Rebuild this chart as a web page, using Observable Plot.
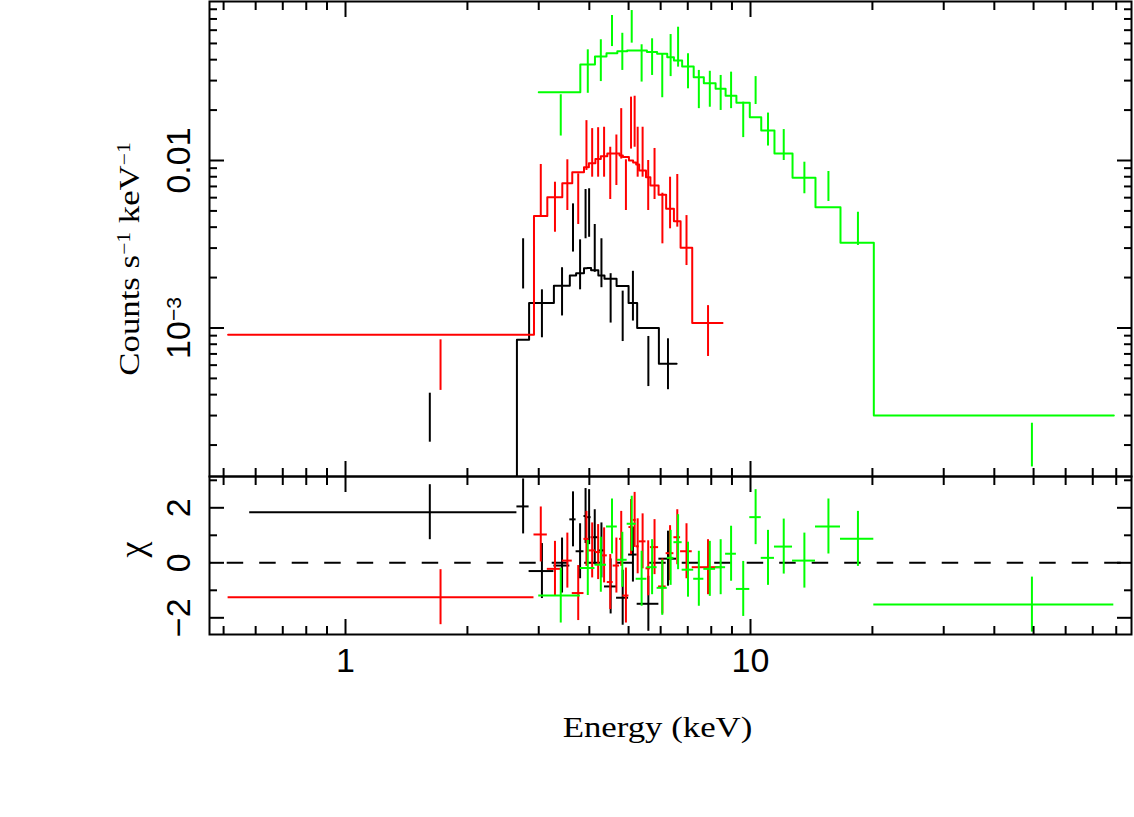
<!DOCTYPE html>
<html><head><meta charset="utf-8">
<script src="https://cdn.jsdelivr.net/npm/d3@7"></script>
<script src="https://cdn.jsdelivr.net/npm/@observablehq/plot@0.6"></script>
<style>
 body{margin:0;background:#fff;}
 #chart{position:relative;width:1134px;height:817px;background:#fff;overflow:hidden;}
 #chart svg{position:absolute;left:0;}
</style></head><body><div id="chart"></div>
<script>
// ---------- axes ----------
const xDomain = [0.4615, 87.25];           // keV
const countsDomain = [1.298e-4, 0.089];    // counts s^-1 keV^-1
const chiDomain = [-2.607, 3.138];
const xMajor = [1, 10];
const xMajorLabels = ["1", "10"];
const xMinor = [0.5, 0.6, 0.7, 0.8, 0.9, 2, 3, 4, 5, 6, 7, 8, 9, 20, 30, 40, 50, 60, 70, 80];
const countsMajor = [1e-3, 1e-2];
const countsMajorLabels = ["10⁻³", "0.01"];
const countsMajorParts = [[["10", false], ["−3", true]], [["0.01", false]]];
const countsMinor = [2e-4, 3e-4, 4e-4, 5e-4, 6e-4, 7e-4, 8e-4, 9e-4, 2e-3, 3e-3, 4e-3, 5e-3, 6e-3, 7e-3, 8e-3, 9e-3, 0.02, 0.03, 0.04, 0.05, 0.06, 0.07, 0.08];
const chiMajor = [-2, 0, 2];
const chiMajorLabels = ["−2", "0", "2"];
const chiMinor = [-1, 1, 3];
const titleX = "Energy (keV)";
const titleCounts = "Counts s⁻¹ keV⁻¹";
const titleCountsParts = [["Counts s", false], ["−1", true], [" keV", false], ["−1", true]];
const titleChi = "χ";

// ---------- data group 1 (black) ----------
const blackEdges = [0.58, 2.65, 2.84, 3.27, 3.58, 3.71, 3.88, 3.95, 4.04, 4.21, 4.36, 4.67, 5.00, 5.25, 5.94, 6.57];
const blackModel = [1.1e-4, 8.5e-4, 1.41e-3, 1.79e-3, 2.06e-3, 2.12e-3, 2.27e-3, 2.28e-3, 2.21e-3, 2.06e-3, 1.97e-3, 1.78e-3, 1.41e-3, 1.00e-3, 6.11e-4];
const blackHi = [4.08e-4, 3.41e-3, 1.69e-3, 2.29e-3, 5.51e-3, 3.36e-3, 6.71e-3, 6.78e-3, 4.15e-3, 3.41e-3, 2.11e-3, 1.66e-3, 2.18e-3, 8.90e-4, 8.62e-4];
const blackLo = [2.08e-4, 1.71e-3, 8.74e-4, 1.18e-3, 2.84e-3, 1.69e-3, 3.41e-3, 3.48e-3, 2.15e-3, 1.74e-3, 1.07e-3, 8.30e-4, 1.10e-3, 4.47e-4, 4.28e-4];
const blackChi = [1.84, 2.05, -0.30, -0.10, 1.58, 0.42, 1.70, 1.66, 0.93, 0.45, -0.86, -1.27, 0.30, -1.49, 0.15];

// ---------- data group 2 (red) ----------
const redEdges = [0.513, 2.92, 3.15, 3.43, 3.63, 3.88, 3.99, 4.14, 4.27, 4.43, 4.58, 4.75, 4.84, 5.01, 5.13, 5.22, 5.31, 5.52, 5.66, 5.93, 6.19, 6.47, 6.72, 7.18, 8.53];
const redModel = [9.11e-4, 4.66e-3, 6.04e-3, 7.32e-3, 8.51e-3, 9.12e-3, 9.64e-3, 1.02e-2, 1.06e-2, 1.10e-2, 1.10e-2, 1.07e-2, 1.05e-2, 1.00e-2, 9.73e-3, 9.47e-3, 8.72e-3, 7.95e-3, 7.09e-3, 6.24e-3, 5.15e-3, 4.34e-3, 3.01e-3, 1.07e-3];
const redHi = [8.50e-4, 9.47e-3, 7.42e-3, 1.01e-2, 8.33e-3, 1.73e-2, 1.55e-2, 1.57e-2, 1.58e-2, 1.20e-2, 1.42e-2, 2.04e-2, 1.01e-2, 2.39e-2, 2.42e-2, 1.58e-2, 1.58e-2, 1.00e-2, 1.18e-2, 6.38e-3, 7.95e-3, 8.25e-3, 4.69e-3, 1.36e-3];
const redLo = [4.24e-4, 4.69e-3, 3.73e-3, 5.03e-3, 4.15e-3, 8.72e-3, 7.95e-3, 7.95e-3, 7.95e-3, 5.85e-3, 7.09e-3, 1.02e-2, 5.03e-3, 1.17e-2, 1.20e-2, 7.95e-3, 7.95e-3, 5.03e-3, 5.85e-3, 3.18e-3, 3.91e-3, 4.00e-3, 2.36e-3, 6.76e-4];
const redChi = [-1.25, 1.03, -0.22, 0.08, -1.10, 0.87, 0.45, 0.39, 0.27, -0.70, -0.10, 0.87, -1.19, 1.30, 1.56, 0.60, 0.78, -0.20, 0.57, -0.86, 0.35, 0.93, 0.42, -0.16];

// ---------- data group 3 (green) ----------
const greenEdges = [3.00, 3.80, 4.13, 4.41, 4.69, 4.96, 5.22, 5.55, 5.88, 6.23, 6.47, 6.78, 7.24, 7.67, 8.20, 8.68, 9.23, 9.96, 10.63, 11.46, 12.70, 14.47, 16.68, 20.16, 78.9];
const greenModel = [2.56e-2, 3.74e-2, 4.18e-2, 4.37e-2, 4.49e-2, 4.54e-2, 4.54e-2, 4.44e-2, 4.34e-2, 4.14e-2, 3.95e-2, 3.64e-2, 3.14e-2, 2.89e-2, 2.68e-2, 2.44e-2, 2.21e-2, 1.81e-2, 1.51e-2, 1.10e-2, 7.88e-3, 5.26e-3, 3.23e-3, 3.00e-4];
const greenHi = [2.47e-2, 4.58e-2, 5.26e-2, 7.34e-2, 5.75e-2, 7.86e-2, 4.91e-2, 5.33e-2, 4.34e-2, 5.65e-2, 6.25e-2, 4.34e-2, 3.45e-2, 3.41e-2, 3.22e-2, 3.37e-2, 2.23e-2, 3.17e-2, 1.92e-2, 1.53e-2, 9.77e-3, 8.60e-3, 4.91e-3, 2.70e-4];
const greenLo = [1.40e-2, 2.52e-2, 2.96e-2, 4.79e-2, 3.45e-2, 5.02e-2, 2.94e-2, 3.22e-2, 2.37e-2, 3.17e-2, 3.61e-2, 2.68e-2, 2.04e-2, 2.08e-2, 1.99e-2, 2.04e-2, 1.37e-2, 2.16e-2, 1.22e-2, 1.00e-2, 6.33e-3, 5.69e-3, 3.11e-3, 1.48e-4];
const greenChi = [-1.19, -0.19, -0.07, 1.32, 0.11, 1.42, -0.58, -0.16, -0.91, 0.18, 0.75, -0.25, -0.58, -0.22, -0.16, 0.33, -0.95, 1.66, 0.18, 0.59, 0.08, 1.32, 0.87, -1.52];

const groups = [
  {color: "#000000", edges: blackEdges, model: blackModel, hi: blackHi, lo: blackLo, chi: blackChi},
  {color: "#ff0000", edges: redEdges, model: redModel, hi: redHi, lo: redLo, chi: redChi},
  {color: "#00ff00", edges: greenEdges, model: greenModel, hi: greenHi, lo: greenLo, chi: greenChi}
];

function bins(g) {
  return g.model.map((m, i) => ({
    lo: g.edges[i], hi: g.edges[i + 1], x: (g.edges[i] + g.edges[i + 1]) / 2,
    model: m, yHi: g.hi[i], yLo: g.lo[i], chi: g.chi[i]
  }));
}
function steps(g) {
  const pts = g.model.map((m, i) => ({e: g.edges[i], m}));
  pts.push({e: g.edges[g.edges.length - 1], m: g.model[g.model.length - 1]});
  return pts;
}

const LW = 2;
function frameTicks(yMaj, yMin) {
  const base = {stroke: "black", strokeWidth: LW, fill: "none", label: null};
  const out = [];
  for (const [vals, size] of [[xMajor, 15], [xMinor, 8]]) {
    out.push(Plot.axisX(vals, {...base, anchor: "bottom", tickSize: size, dy: -size}));
    out.push(Plot.axisX(vals, {...base, anchor: "top", tickSize: size, dy: size}));
  }
  for (const [vals, size] of [[yMaj, 15], [yMin, 8]]) {
    out.push(Plot.axisY(vals, {...base, anchor: "left", tickSize: size, dx: size}));
    out.push(Plot.axisY(vals, {...base, anchor: "right", tickSize: size, dx: -size}));
  }
  return out;
}

// ---------- top panel ----------
const topMarks = [];
for (const g of groups) {
  const b = bins(g);
  topMarks.push(Plot.ruleX(b, {x: "x", y1: "yLo", y2: "yHi", stroke: g.color, strokeWidth: LW}));
  topMarks.push(Plot.line(steps(g), {x: "e", y: "m", curve: "step-after", stroke: g.color, strokeWidth: LW, clip: true}));
}
const topPlot = Plot.plot({
  width: 1134, height: 477,
  marginLeft: 209, marginRight: 3, marginTop: 1, marginBottom: 1,
  style: {background: "transparent", overflow: "visible", fontFamily: "Liberation Sans"},
  x: {type: "log", domain: xDomain},
  y: {type: "log", domain: countsDomain},
  marks: [
    ...topMarks,
    Plot.frame({strokeWidth: LW}),
    ...frameTicks(countsMajor, countsMinor),
    Plot.text(countsMajor, {y: d => d, frameAnchor: "left", dx: -20, rotate: -90, textAnchor: "middle", lineAnchor: "bottom",
      text: (d, i) => countsMajorLabels[i], fontSize: 34, fontFamily: "Liberation Sans", fill: "black"}),
    Plot.text([titleCounts], {text: d => d, frameAnchor: "left", dx: -71, dy: 20, rotate: -90, textAnchor: "middle", lineAnchor: "bottom",
      fontSize: 29, fontFamily: "Liberation Serif", fill: "black"})
  ]
});
topPlot.style.top = "0px";

// ---------- bottom panel ----------
const botMarks = [
  Plot.ruleY([0], {stroke: "black", strokeWidth: LW, strokeDasharray: "16.5,16", strokeDashoffset: -17.7})
];
for (const g of groups) {
  const b = bins(g);
  botMarks.push(Plot.ruleX(b, {x: "x", y1: d => d.chi - 1, y2: d => d.chi + 1, stroke: g.color, strokeWidth: LW}));
  botMarks.push(Plot.ruleY(b, {y: "chi", x1: "lo", x2: "hi", stroke: g.color, strokeWidth: LW}));
}
const botPlot = Plot.plot({
  width: 1134, height: 351,
  marginLeft: 209, marginRight: 3, marginTop: 10, marginBottom: 183,
  style: {background: "transparent", overflow: "visible", fontFamily: "Liberation Sans"},
  x: {type: "log", domain: xDomain},
  y: {domain: chiDomain},
  marks: [
    ...botMarks,
    Plot.frame({strokeWidth: LW}),
    ...frameTicks(chiMajor, chiMinor),
    Plot.axisX(xMajor, {anchor: "bottom", tickSize: 0, tickPadding: 13, stroke: "none", fill: "black", label: null,
      tickFormat: d => xMajorLabels[xMajor.indexOf(d)], fontSize: 34, fontFamily: "Liberation Sans"}),
    Plot.text(chiMajor, {y: d => d, frameAnchor: "left", dx: -20, rotate: -90, textAnchor: "middle", lineAnchor: "bottom",
      text: (d, i) => chiMajorLabels[i], fontSize: 34, fontFamily: "Liberation Sans", fill: "black"}),
    Plot.text([titleChi], {text: d => d, frameAnchor: "left", dx: -66, dy: -6, rotate: -90, textAnchor: "middle", lineAnchor: "bottom",
      fontSize: 36, fontFamily: "Liberation Serif", fill: "black"}),
    Plot.text([titleX], {text: d => d, frameAnchor: "bottom", dx: -13, dy: 102, textAnchor: "middle", lineAnchor: "bottom",
      fontSize: 29, fontFamily: "Liberation Serif", fill: "black"})
  ]
});
botPlot.style.top = "466px";

const chart = document.getElementById("chart");
chart.appendChild(topPlot);
chart.appendChild(botPlot);

// ---------- post-processing of text: wider serif titles, real superscripts ----------
const SVGNS = "http://www.w3.org/2000/svg";
function stretch(t, sx) {
  const x = +t.getAttribute("x") || 0, y = +t.getAttribute("y") || 0;
  const T = t.getAttribute("transform") || "";
  t.setAttribute("transform", `${T} translate(${x},${y}) scale(${sx},1) translate(${-x},${-y})`);
}
function setParts(t, parts) {
  while (t.firstChild) t.removeChild(t.firstChild);
  for (const [s, sup] of parts) {
    const ts = document.createElementNS(SVGNS, "tspan");
    ts.textContent = s;
    if (sup) { ts.setAttribute("font-size", "62%"); ts.setAttribute("baseline-shift", "45%"); }
    t.appendChild(ts);
  }
}
for (const svg of [topPlot, botPlot]) {
  svg.querySelectorAll("text").forEach(t => {
    const s = t.textContent;
    if (s === titleX) stretch(t, 1.2);
    else if (s === titleCounts) { stretch(t, 1.2); setParts(t, titleCountsParts); }
    else {
      const k = countsMajorLabels.indexOf(s);
      if (k >= 0) setParts(t, countsMajorParts[k]);
    }
  });
}
</script></body></html>
